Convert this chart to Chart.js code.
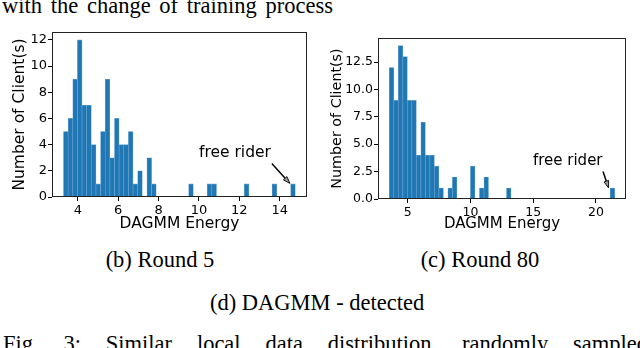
<!DOCTYPE html>
<html>
<head>
<meta charset="utf-8">
<script src="https://cdn.jsdelivr.net/npm/chart.js@4.4.1/dist/chart.umd.min.js"></script>
<style>
  html, body { margin: 0; padding: 0; background: #fff; }
  #page { position: relative; width: 640px; height: 348px; overflow: hidden; background: #fff; }
  .serif { position: absolute; font-family: 'Liberation Serif', 'Times New Roman', serif; color: #000; white-space: nowrap; }
  .just { white-space: normal; text-align: justify; text-align-last: justify; }
  .box { position: absolute; top: 0; width: 320px; height: 240px; }
</style>
</head>
<body>
<div id="page">
  <div class="serif just" style="left:2px; top:-5px; width:331px; font-size:22.5px; line-height:22.5px;">with the change of training process</div>
  <div class="box" style="left:0;"><canvas id="round5"></canvas></div>
  <div class="box" style="left:320px;"><canvas id="round80"></canvas></div>
  <div class="serif" style="left:60px; width:200px; text-align:center; top:249px; font-size:22.5px; line-height:22.5px;">(b) Round 5</div>
  <div class="serif" style="left:380px; width:200px; text-align:center; top:249px; font-size:22.5px; line-height:22.5px;">(c) Round 80</div>
  <div class="serif" style="left:210px; top:292px; font-size:22.5px; line-height:22.5px;">(d) DAGMM - detected</div>
  <div class="serif just" style="left:3px; top:333px; width:645px; font-size:22.5px; line-height:22.5px;">Fig. 3: Similar local data distribution, randomly sampled</div>
</div>
<script>
// Histogram counts (50 bins each)
const counts5 = [5, 6, 9, 12, 7, 7, 4, 1, 5, 9, 3, 6, 4, 4, 5, 1, 2, 0, 3, 1,
                 0, 0, 0, 0, 0, 0, 0, 1, 0, 0, 0, 1, 1, 0, 0, 0, 0, 0, 0, 1,
                 0, 0, 0, 0, 0, 1, 0, 0, 0, 1];
const counts80 = [12, 9, 14, 13, 9, 9, 4, 7, 4, 4, 3, 1, 0, 1, 2, 0, 0, 0, 3, 0,
                  1, 2, 0, 0, 0, 0, 1, 0, 0, 0, 0, 0, 0, 0, 0, 0, 0, 0, 0, 0,
                  0, 0, 0, 0, 0, 0, 0, 0, 0, 1];

// Histogram range (first bin left edge, last bin right edge)
const range5 = [3.29, 14.77];
const range80 = [3.54, 21.49];

// Axis limits and ticks
const xLim5 = [2.72, 15.35];
const xLim80 = [2.64, 22.39];
const yMax5 = 12.6;
const yMax80 = 14.7;
const xTicks5 = [4, 6, 8, 10, 12, 14];
const yTicks5 = [0, 2, 4, 6, 8, 10, 12];
const xTicks80 = [5, 10, 15, 20];
const yTicks80 = [0, 2.5, 5, 7.5, 10, 12.5];

// "free rider" annotation: text spot, arrow tail, arrow tip (data coords)
const note5 = { text: [11.78, 3.33], from: [13.61, 2.55], to: [14.5, 1.04] };
const note80 = { text: [17.75, 3.5], from: [20.56, 2.52], to: [21.0, 1.02] };

const sansFont = "'DejaVu Sans', sans-serif";
const barBlue = '#1f77b4';

function binPoints(counts, range) {
    const w = (range[1] - range[0]) / counts.length;
    return counts.map((c, i) => ({ x: range[0] + w * (i + 0.5), y: c }));
}

// box round the plot area, like matplotlib spines
const frame = {
    id: 'frame',
    afterDraw(chart) {
        const { ctx, chartArea: a } = chart;
        ctx.save();
        ctx.strokeStyle = '#222';
        ctx.lineWidth = 1;
        const l = Math.round(a.left) + 0.5, t = Math.round(a.top) + 0.5;
        const r = Math.round(a.right) - 0.5, b = Math.round(a.bottom) - 0.5;
        ctx.strokeRect(l, t, r - l, b - t);
        ctx.restore();
    }
};

const freeRider = {
    id: 'freeRider',
    afterDatasetsDraw(chart, args, opts) {
        const { ctx, scales: { x, y } } = chart;
        const px = p => [x.getPixelForValue(p[0]), y.getPixelForValue(p[1])];
        ctx.save();
        ctx.font = opts.size + 'px ' + sansFont;
        ctx.fillStyle = '#000';
        ctx.textAlign = 'center';
        ctx.textBaseline = 'middle';
        const [tx, ty] = px(opts.text);
        ctx.fillText('free rider', tx, ty);

        const [x0, y0] = px(opts.from);
        const [x1, y1] = px(opts.to);
        const ang = Math.atan2(y1 - y0, x1 - x0);
        const c = Math.cos(ang), s = Math.sin(ang);
        const len = 7, half = 2.4;
        ctx.strokeStyle = '#000';
        ctx.lineWidth = 1.5;
        ctx.beginPath();
        ctx.moveTo(x0, y0);
        ctx.lineTo(x1 - len * c, y1 - len * s);
        ctx.stroke();
        ctx.beginPath();
        ctx.moveTo(x1, y1);
        ctx.lineTo(x1 - len * c + half * s, y1 - len * s - half * c);
        ctx.lineTo(x1 - len * c - half * s, y1 - len * s + half * c);
        ctx.closePath();
        ctx.fillStyle = '#999';
        ctx.fill();
        ctx.lineWidth = 0.9;
        ctx.stroke();
        ctx.restore();
    }
};

function makeHist(id, counts, range, xLim, yMax, xTicks, yTicks, yFmt, note, g) {
    new Chart(document.getElementById(id).getContext('2d'), {
        type: 'bar',
        data: {
            datasets: [{
                data: binPoints(counts, range),
                backgroundColor: barBlue,
                borderColor: '#6fa6d6',
                borderWidth: { left: 0.6, right: 0.6, top: 0.6, bottom: 0 },
                borderSkipped: 'bottom',
                barPercentage: 1,
                categoryPercentage: 1
            }]
        },
        options: {
            responsive: true,
            maintainAspectRatio: false,
            animation: false,
            events: [],
            layout: { padding: { top: g.top, right: g.right, left: 0, bottom: 0 } },
            plugins: {
                legend: { display: false },
                tooltip: { enabled: false },
                freeRider: Object.assign({ size: g.note }, note)
            },
            scales: {
                x: {
                    type: 'linear',
                    min: xLim[0],
                    max: xLim[1],
                    offset: false,
                    afterBuildTicks: sc => { sc.ticks = xTicks.map(v => ({ value: v })); },
                    afterFit: sc => { sc.height = g.xh; },
                    grid: { display: true, drawOnChartArea: false, offset: false, tickLength: 4, color: '#000' },
                    border: { display: false },
                    ticks: { color: '#000', padding: 2, maxRotation: 0, font: { family: sansFont, size: g.tick } },
                    title: { display: true, text: 'DAGMM Energy', color: '#000',
                             font: { family: sansFont, size: g.note }, padding: { top: 0, bottom: g.xtPad } }
                },
                y: {
                    min: 0,
                    max: yMax,
                    afterBuildTicks: sc => { sc.ticks = yTicks.map(v => ({ value: v })); },
                    afterFit: sc => { sc.width = g.yw; },
                    grid: { display: true, drawOnChartArea: false, tickLength: 4, color: '#000' },
                    border: { display: false },
                    ticks: { color: '#000', padding: 1, callback: yFmt, font: { family: sansFont, size: g.tick } },
                    title: { display: true, text: 'Number of Client(s)', color: '#000',
                             font: { family: sansFont, size: g.ytitle }, padding: { top: g.ytPad, bottom: 0 } }
                }
            }
        },
        plugins: [frame, freeRider]
    });
}

makeHist('round5', counts5, range5, xLim5, yMax5, xTicks5, yTicks5, v => String(v), note5,
    { top: 32, right: 13, yw: 52, xh: 43, ytPad: 11, xtPad: 7, tick: 13, note: 15.5, ytitle: 15.5 });
makeHist('round80', counts80, range80, xLim80, yMax80, xTicks80, yTicks80, v => v.toFixed(1), note80,
    { top: 38, right: 14, yw: 58, xh: 41, ytPad: 9, xtPad: 7, tick: 12.5, note: 15, ytitle: 14.3 });
</script>
</body>
</html>
